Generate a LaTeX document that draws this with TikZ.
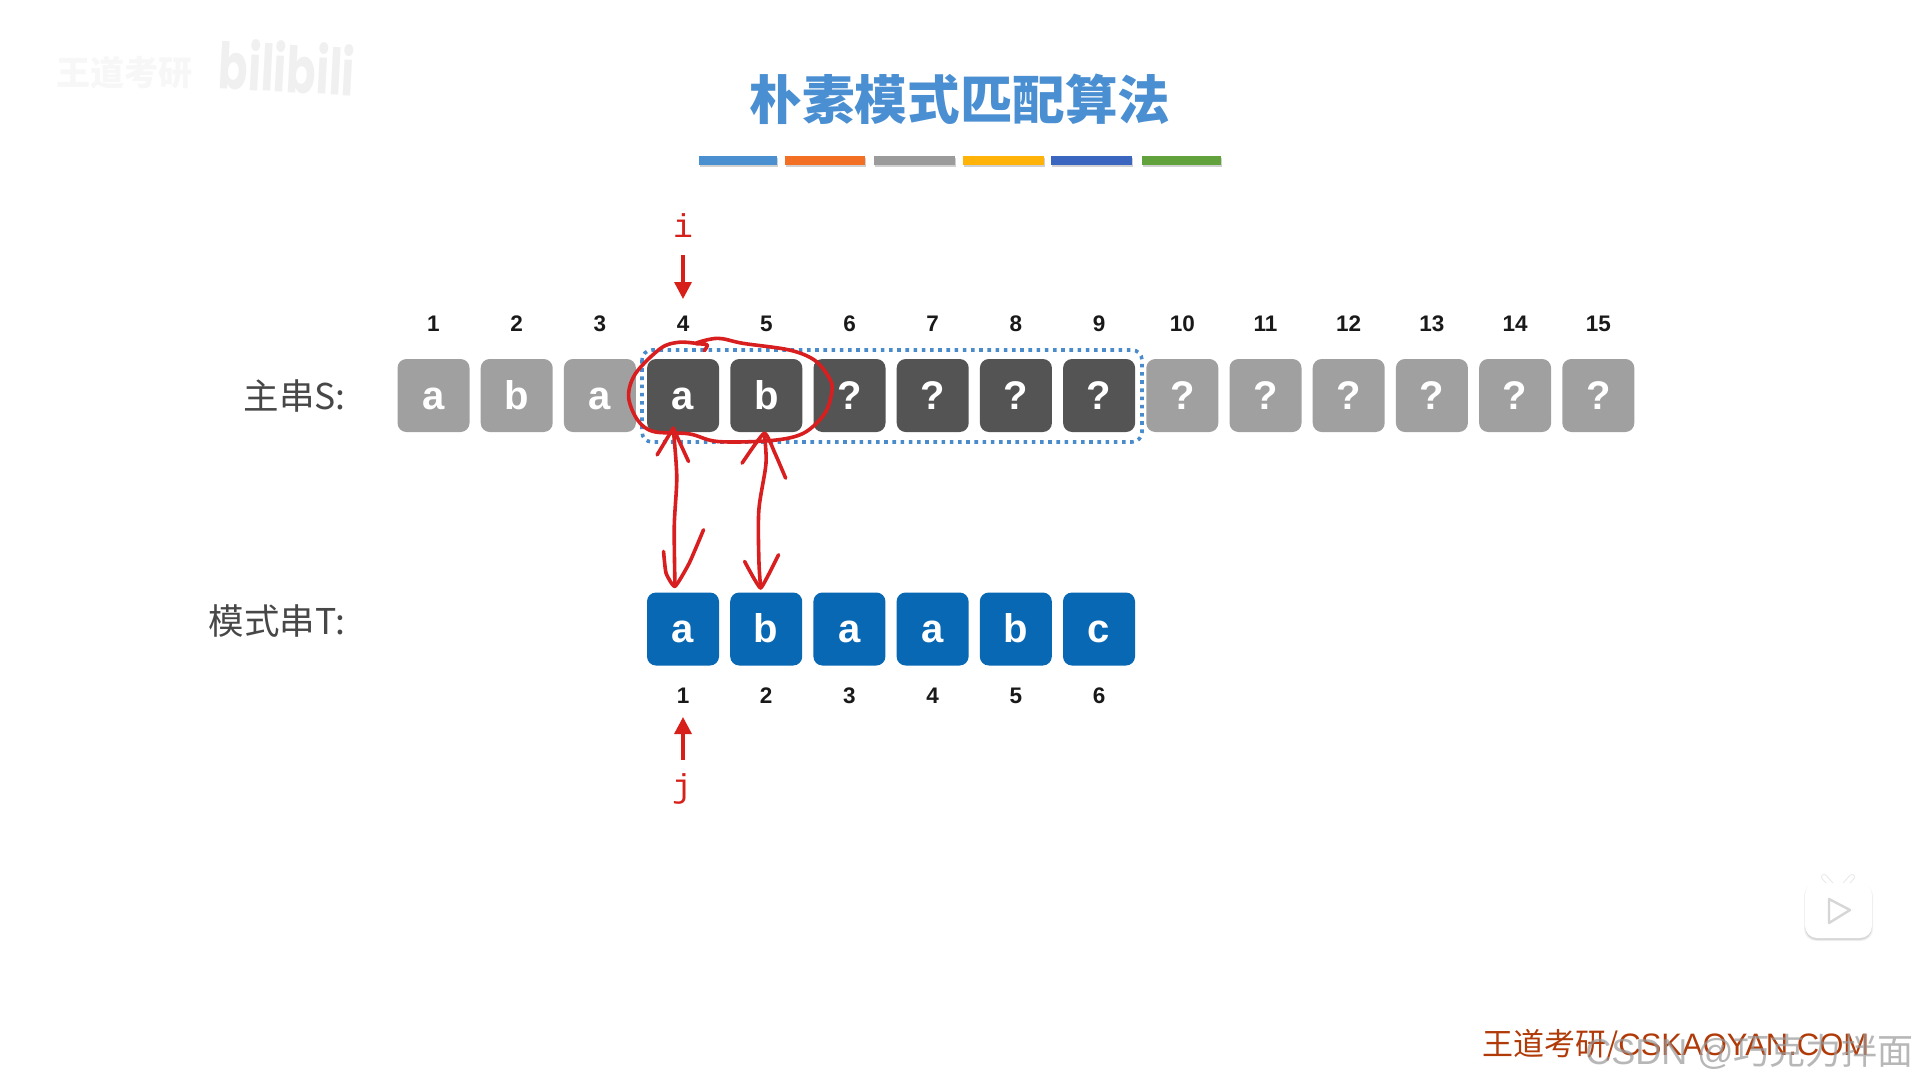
\documentclass[tikz,border=0pt]{standalone}
\usepackage{fontspec}
\setmainfont{Liberation Sans}
\newfontfamily\cjk{Noto Sans CJK SC}
\newfontfamily\monof{Liberation Mono}
\newfontfamily\logof{Poppins}
\usetikzlibrary{arrows.meta}
\definecolor{lightbox}{HTML}{A0A0A0}
\definecolor{darkbox}{HTML}{545454}
\definecolor{bluebox}{HTML}{0868B4}
\definecolor{ink}{HTML}{D81E1E}
\definecolor{pointer}{HTML}{D8201A}
\definecolor{titleblue}{HTML}{4A8FD2}
\definecolor{dots}{HTML}{4A8CCB}
\definecolor{foot}{HTML}{B03A08}
\tikzset{
  cell/.style={minimum width=72pt,minimum height=73pt,inner sep=0pt,rounded corners=9pt,text=white,
    font=\fontsize{40}{40}\selectfont\bfseries,text height=27pt,text depth=0pt},
  lightcell/.style={cell,fill=lightbox},
  darkcell/.style={cell,fill=darkbox},
  bluecell/.style={cell,fill=bluebox},
  idx/.style={font=\fontsize{22.5}{22.5}\selectfont\bfseries,text=black!90,inner sep=0pt,text height=17pt,text depth=0pt},
  rowlabel/.style={anchor=east,inner sep=0pt,text=black!72,font=\cjk\fontsize{35.5}{35.5}\selectfont},
  pointerlabel/.style={text=pointer,inner sep=0pt,font=\monof\fontsize{33}{33}\selectfont},
  pointerarrow/.style={draw=pointer,line width=3.4pt,-{Triangle[width=17pt,length=17pt]}},
  pen/.style={draw=ink,line width=3.6pt,line cap=round,line join=round}
}
\begin{document}
\begin{tikzpicture}[x=1pt,y=-1pt]
\useasboundingbox (0,0) rectangle (1919,1079);
\fill[white] (0,0) rectangle (1919,1079);
% faint watermark top-left
\node[inner sep=0pt,text=black!3,font=\cjk\bfseries\fontsize{34}{34}\selectfont] (wm) at (124,73) {王道考研};
\node[inner sep=0pt,text=black!6,rotate=-3,font=\logof\bfseries\fontsize{64}{64}\selectfont] (bili) at (287,67) {\scalebox{.68}[1]{bilibili}};
% title
\node[inner sep=0pt,text=titleblue,font=\cjk\bfseries\fontsize{52.6}{52.6}\selectfont] (title) at (960,99) {朴素模式匹配算法};
% colour bars
\foreach \xa/\xb/\c in {699/777/4A90D0,784.5/865/F26F24,874/955/9B9B9B,963/1044/FFB308,1051/1132/3A66C0,1142/1221/62A23C}{
  \definecolor{barc}{HTML}{\c}
  \fill[black,opacity=.18] (\xa+1,158) rectangle (\xb+1,167);
  \fill[barc] (\xa,156) rectangle (\xb,165);
}
% main string
\foreach \n/\t/\s in {1/a/lightcell,2/b/lightcell,3/a/lightcell,4/a/darkcell,5/b/darkcell,6/?/darkcell,7/?/darkcell,8/?/darkcell,9/?/darkcell,10/?/lightcell,11/?/lightcell,12/?/lightcell,13/?/lightcell,14/?/lightcell,15/?/lightcell}{
  \node[\s] (s\n) at ({433.5+83.2*(\n-1)},395.5) {\t};
  \node[idx] (sn\n) at ({433.5+83.2*(\n-1)},323) {\n};
}
% pattern
\foreach \n/\t in {1/a,2/b,3/a,4/a,5/b,6/c}{
  \node[bluecell] (t\n) at ({683+83.2*(\n-1)},629) {\t};
  \node[idx] (tn\n) at ({683+83.2*(\n-1)},695) {\n};
}
\node[rowlabel] (lbS) at (346,396) {主串S:};
\node[rowlabel] (lbT) at (346,621) {模式串T:};
% dotted window
\draw[dots,line width=3.6pt,dash pattern=on 3.6pt off 4.6pt,rounded corners=10pt] (642,350) rectangle (1142,442);
% pointers
\node[pointerlabel] (ptri) at (683,226) {i};
\node[pointerlabel] (ptrj) at (682,789) {j};
\coordinate (ia) at (683,255);
\coordinate (ib) at (683,299);
\coordinate (ja) at (683,760);
\coordinate (jb) at (683,717);
\draw[pointerarrow] (ia) -- (ib);
\draw[pointerarrow] (ja) -- (jb);
% hand-drawn ink
\begin{scope}[shift={(600,310)},xscale=.357,yscale=.333]
\draw[pen] plot[smooth,tension=.55] coordinates {(292,122) (300,104) (268,100) (330,85) (400,100) (530,120) (600,150) (640,200) (650,240) (630,310) (570,370) (480,392) (330,395) (250,372) (150,365) (105,330) (80,260) (100,190) (170,115) (220,97) (268,100)};
\draw[pen] plot[smooth,tension=.5] coordinates {(205,355) (215,500) (208,650) (210,830)};
\draw[pen] (160,435) -- (205,355) -- (248,455);
\draw[pen] plot[smooth,tension=.3] coordinates {(178,725) (185,790) (210,830) (250,760) (290,660)};
\draw[pen] plot[smooth,tension=.5] coordinates {(460,370) (465,460) (445,600) (445,750) (450,835)};
\draw[pen] plot[smooth,tension=.3] coordinates {(398,460) (460,370) (490,430) (520,505)};
\draw[pen] plot[smooth,tension=.2] coordinates {(405,755) (450,835) (500,735)};
\end{scope}
% TV icon
\draw[black!9,line width=6pt,line cap=round] (1824,877) -- (1834,888);
\draw[black!9,line width=6pt,line cap=round] (1852,877) -- (1842,888);
\draw[white,line width=4pt,line cap=round] (1824,877) -- (1834,888);
\draw[white,line width=4pt,line cap=round] (1852,877) -- (1842,888);
\fill[black,opacity=.06,rounded corners=12pt] (1804,884) rectangle (1873,941);
\fill[black,opacity=.10,rounded corners=12pt] (1805,885) rectangle (1872,940);
\fill[white,rounded corners=12pt] (1805,883) rectangle (1872,938);
\draw[black!16,line width=2.4pt,line join=round,fill=white] (1829,899) -- (1850,910) -- (1829,923) -- cycle;
% footer
\node[inner sep=0pt,anchor=west,text=foot,font=\cjk\fontsize{31}{31}\selectfont] (footer) at (1482,1045) {王道考研/{\fontspec{Liberation Sans}CSKAOYAN.COM}};
\node[inner sep=0pt,anchor=east,text=black!40,opacity=.7,font=\cjk\fontsize{36}{36}\selectfont] (csdn) at (1914,1052) {{\fontspec{Liberation Sans}CSDN @}巧克力拌面};
\end{tikzpicture}
\end{document}
